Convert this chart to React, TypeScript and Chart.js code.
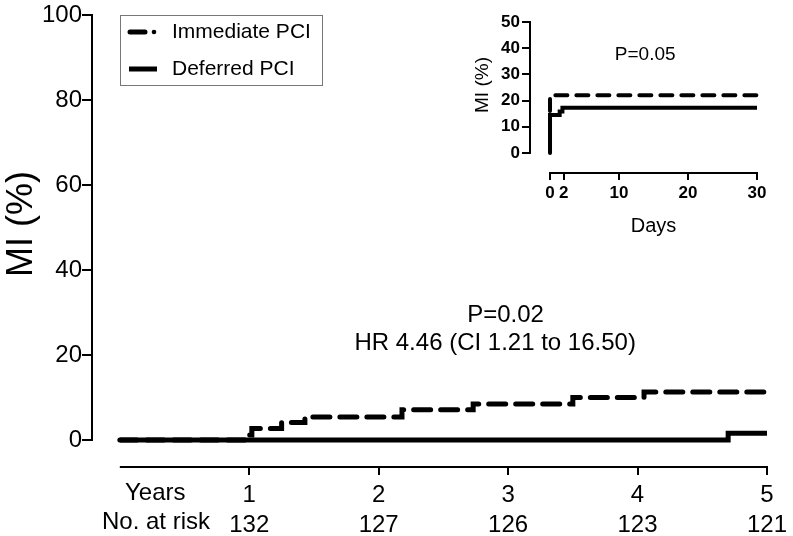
import React, { useEffect, useRef } from "react";
import { Chart, registerables } from "chart.js";

Chart.register(...registerables);

const FONT = "'Liberation Sans', Arial, Helvetica, sans-serif";
Chart.defaults.font.family = FONT;
Chart.defaults.color = "#000";

// ---------- main chart data (years, % MI) ----------
const yearTicks = [1, 2, 3, 4, 5];
const atRisk = [132, 127, 126, 123, 121];
const mainYTicks = [0, 20, 40, 60, 80, 100];

const immediateYears = [0, 1.0, 1.02, 1.25, 1.43, 2.18, 2.73, 3.5, 4.05, 5];
const immediateMI = [0, 1.2, 2.7, 4.1, 5.4, 7.1, 8.5, 10.0, 11.3, 11.3];

const deferredYears = [0, 4.7, 5];
const deferredMI = [0, 1.6, 1.6];

const seriesNames = ["Immediate PCI", "Deferred PCI"];
const mainNote1 = "P=0.02";
const mainNote2 = "HR 4.46 (CI 1.21 to 16.50)";

// ---------- inset data (days, % MI) ----------
const dayTicks = [0, 2, 10, 20, 30];
const insetYTicks = [0, 10, 20, 30, 40, 50];

const insetImmediateDays = [0, 0, 30];
const insetImmediateMI = [0, 22, 22];

const insetDeferredDays = [0, 0, 1.4, 1.8, 30];
const insetDeferredMI = [0, 14.5, 15.8, 17.3, 17.3];

const insetNote = "P=0.05";

const toPoints = (xs: number[], ys: number[]) => xs.map((x, i) => ({ x, y: ys[i] }));

const mainDecor = {
  id: "mainDecor",
  afterDraw(chart: any) {
    const { ctx, chartArea, scales } = chart;
    const x = scales.x;
    const y = scales.y;
    ctx.save();
    ctx.strokeStyle = "#000";
    ctx.lineWidth = 2;
    ctx.setLineDash([]);
    // y axis line
    ctx.beginPath();
    ctx.moveTo(chartArea.left, y.getPixelForValue(100) - 1);
    ctx.lineTo(chartArea.left, y.getPixelForValue(0) + 1);
    ctx.stroke();
    // x axis line
    ctx.beginPath();
    ctx.moveTo(x.getPixelForValue(0), chartArea.bottom);
    ctx.lineTo(x.getPixelForValue(5) + 1, chartArea.bottom);
    ctx.stroke();

    ctx.fillStyle = "#000";
    // y title
    ctx.save();
    ctx.translate(22, 224);
    ctx.rotate(-Math.PI / 2);
    ctx.font = `36px ${FONT}`;
    ctx.textAlign = "center";
    ctx.textBaseline = "middle";
    ctx.fillText("MI (%)", 0, 0);
    ctx.restore();

    // row labels
    ctx.font = `24px ${FONT}`;
    ctx.textAlign = "left";
    ctx.textBaseline = "middle";
    ctx.fillText("Years", 125, 493);
    ctx.fillText("No. at risk", 102, 522);

    // annotation
    ctx.textAlign = "center";
    ctx.fillText(mainNote1, x.getPixelForValue(2.98), y.getPixelForValue(29.4));
    ctx.fillText(mainNote2, x.getPixelForValue(2.9), y.getPixelForValue(22.8));

    // legend
    ctx.strokeStyle = "#777";
    ctx.lineWidth = 1;
    ctx.strokeRect(120.5, 15.5, 202, 70);
    const rows = [32, 69];
    chart.data.datasets.forEach((ds: any, i: number) => {
      ctx.save();
      ctx.strokeStyle = ds.borderColor;
      ctx.fillStyle = ds.borderColor;
      ctx.lineWidth = ds.borderWidth;
      ctx.setLineDash([]);
      if (ds.borderDash && ds.borderDash.length) {
        ctx.lineCap = "round";
        ctx.beginPath();
        ctx.moveTo(130, rows[i]);
        ctx.lineTo(145, rows[i]);
        ctx.stroke();
        ctx.beginPath();
        ctx.arc(154, rows[i], 2.3, 0, Math.PI * 2);
        ctx.fill();
      } else {
        ctx.lineCap = "butt";
        ctx.beginPath();
        ctx.moveTo(129, rows[i]);
        ctx.lineTo(157, rows[i]);
        ctx.stroke();
      }
      ctx.restore();
      ctx.font = `21px ${FONT}`;
      ctx.textAlign = "left";
      ctx.textBaseline = "middle";
      ctx.fillText(ds.label, 172, rows[i]);
    });
    ctx.restore();
  },
};

const insetDecor = {
  id: "insetDecor",
  afterDraw(chart: any) {
    const { ctx, chartArea, scales } = chart;
    const x = scales.x;
    const y = scales.y;
    ctx.save();
    ctx.strokeStyle = "#000";
    ctx.lineWidth = 2;
    ctx.beginPath();
    ctx.moveTo(chartArea.left, y.getPixelForValue(50) - 1);
    ctx.lineTo(chartArea.left, y.getPixelForValue(0) + 1);
    ctx.stroke();
    ctx.beginPath();
    ctx.moveTo(x.getPixelForValue(0) - 1, chartArea.bottom);
    ctx.lineTo(x.getPixelForValue(30) + 1, chartArea.bottom);
    ctx.stroke();

    ctx.fillStyle = "#000";
    ctx.save();
    ctx.translate(23, 85);
    ctx.rotate(-Math.PI / 2);
    ctx.font = `19px ${FONT}`;
    ctx.textAlign = "center";
    ctx.textBaseline = "middle";
    ctx.fillText("MI (%)", 0, 0);
    ctx.restore();

    ctx.font = `20px ${FONT}`;
    ctx.textAlign = "center";
    ctx.textBaseline = "middle";
    ctx.fillText("Days", (x.getPixelForValue(0) + x.getPixelForValue(30)) / 2, 226);
    ctx.font = `19px ${FONT}`;
    ctx.fillText(insetNote, x.getPixelForValue(13.8), y.getPixelForValue(37.5));
    ctx.restore();
  },
};

export default function App() {
  const mainRef = useRef<HTMLCanvasElement>(null);
  const insetRef = useRef<HTMLCanvasElement>(null);

  useEffect(() => {
    const lineBase = {
      borderColor: "#000",
      pointRadius: 0,
      stepped: "before" as const,
      fill: false,
      tension: 0,
      clip: false as const,
    };

    const main = new Chart(mainRef.current!, {
      type: "line",
      data: {
        datasets: [
          {
            ...lineBase,
            label: seriesNames[0],
            data: toPoints(immediateYears, immediateMI),
            borderWidth: 5,
            borderDash: [17, 10],
            borderCapStyle: "round",
          },
          {
            ...lineBase,
            label: seriesNames[1],
            data: toPoints(deferredYears, deferredMI),
            borderWidth: 5,
            borderCapStyle: "butt",
          },
        ],
      },
      options: {
        responsive: false,
        animation: false,
        devicePixelRatio: 1,
        layout: { padding: { top: 15, right: 23, left: 0, bottom: 0 } },
        plugins: { legend: { display: false }, tooltip: { enabled: false } },
        scales: {
          x: {
            type: "linear",
            min: -0.215,
            max: 5,
            afterBuildTicks: (s: any) => {
              s.ticks = yearTicks.map((v) => ({ value: v }));
            },
            afterFit: (s: any) => {
              s.height = 69;
            },
            grid: {
              display: true,
              drawOnChartArea: false,
              drawTicks: true,
              tickLength: 8,
              color: "#000",
              lineWidth: 2,
            },
            border: { display: false },
            ticks: {
              autoSkip: false,
              maxRotation: 0,
              padding: 6,
              color: "#000",
              font: { size: 24, lineHeight: 1.22 },
              callback: (v: any) => {
                const i = yearTicks.indexOf(Number(v));
                return i < 0 ? "" : [String(yearTicks[i]), String(atRisk[i])];
              },
            },
          },
          y: {
            type: "linear",
            min: -6.35,
            max: 100,
            afterBuildTicks: (s: any) => {
              s.ticks = mainYTicks.map((v) => ({ value: v }));
            },
            afterFit: (s: any) => {
              s.width = 92;
            },
            grid: {
              display: true,
              drawOnChartArea: false,
              drawTicks: true,
              tickLength: 10,
              color: "#000",
              lineWidth: 2,
            },
            border: { display: false },
            ticks: {
              padding: 0,
              color: "#000",
              font: { size: 24 },
            },
          },
        },
      },
      plugins: [mainDecor],
    } as any);

    const inset = new Chart(insetRef.current!, {
      type: "line",
      data: {
        datasets: [
          {
            ...lineBase,
            label: seriesNames[0],
            data: toPoints(insetImmediateDays, insetImmediateMI),
            borderWidth: 4,
            borderDash: [12, 9],
            borderCapStyle: "round",
          },
          {
            ...lineBase,
            label: seriesNames[1],
            data: toPoints(insetDeferredDays, insetDeferredMI),
            borderWidth: 4,
            borderCapStyle: "butt",
          },
        ],
      },
      options: {
        responsive: false,
        animation: false,
        devicePixelRatio: 1,
        layout: { padding: { top: 22, right: 36, left: 0, bottom: 0 } },
        plugins: { legend: { display: false }, tooltip: { enabled: false } },
        scales: {
          x: {
            type: "linear",
            min: -2.9,
            max: 30,
            afterBuildTicks: (s: any) => {
              s.ticks = dayTicks.map((v) => ({ value: v }));
            },
            afterFit: (s: any) => {
              s.height = 67;
            },
            grid: {
              display: true,
              drawOnChartArea: false,
              drawTicks: true,
              tickLength: 7,
              color: "#000",
              lineWidth: 2,
            },
            border: { display: false },
            ticks: {
              autoSkip: false,
              maxRotation: 0,
              padding: 3,
              color: "#000",
              font: { size: 17, weight: "bold" },
            },
          },
          y: {
            type: "linear",
            min: -7.63,
            max: 50,
            afterBuildTicks: (s: any) => {
              s.ticks = insetYTicks.map((v) => ({ value: v }));
            },
            afterFit: (s: any) => {
              s.width = 70;
            },
            grid: {
              display: true,
              drawOnChartArea: false,
              drawTicks: true,
              tickLength: 8,
              color: "#000",
              lineWidth: 2,
            },
            border: { display: false },
            ticks: {
              padding: 2,
              color: "#000",
              font: { size: 17, weight: "bold" },
            },
          },
        },
      },
      plugins: [insetDecor],
    } as any);

    return () => {
      main.destroy();
      inset.destroy();
    };
  }, []);

  return (
    <div style={{ position: "absolute", left: 0, top: 0, width: 793, height: 536, background: "#fff" }}>
      <canvas
        ref={mainRef}
        width={793}
        height={536}
        style={{ position: "absolute", left: 0, top: 0, width: 793, height: 536 }}
      />
      <canvas
        ref={insetRef}
        width={333}
        height={240}
        style={{ position: "absolute", left: 460, top: 0, width: 333, height: 240 }}
      />
    </div>
  );
}
